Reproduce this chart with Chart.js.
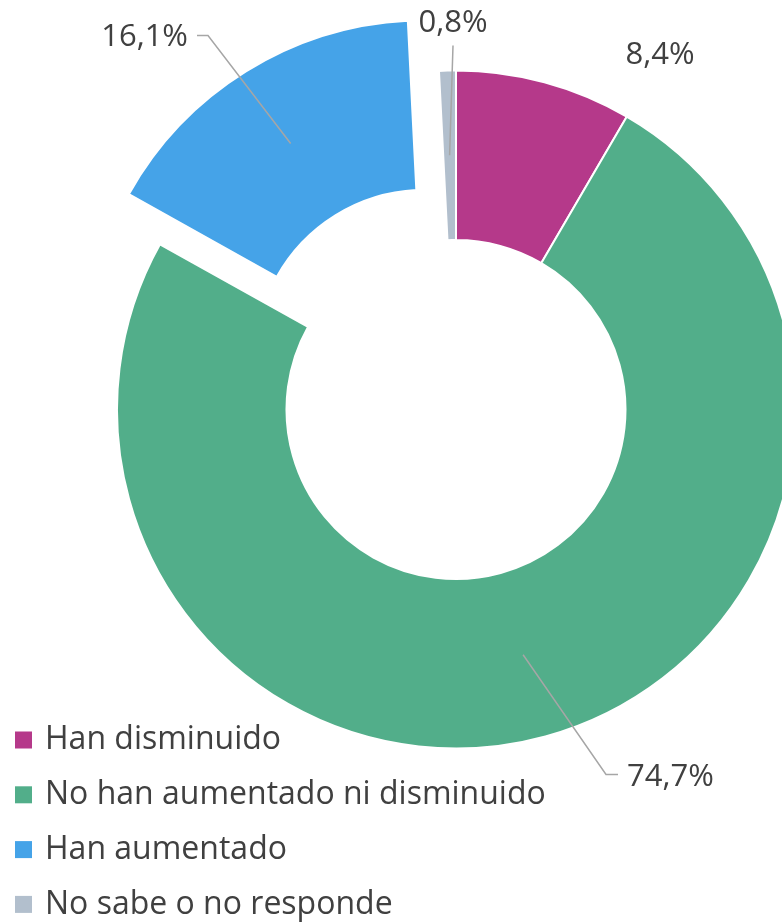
<!DOCTYPE html>
<html>
<head>
<meta charset="utf-8">
<script src="https://cdn.jsdelivr.net/npm/chart.js@4"></script>
<style>
  html, body { margin: 0; background: #fff; }
  canvas { display: block; }
</style>
</head>
<body>
<canvas id="chart" width="782" height="922"></canvas>
<script>
// Data
const categories = ['Han disminuido', 'No han aumentado ni disminuido', 'Han aumentado', 'No sabe o no responde'];
const values = [8.4, 74.7, 16.1, 0.8];
const valueLabels = ['8,4%', '74,7%', '16,1%', '0,8%'];
const colors = ['#B5398A', '#52AE8A', '#45A3E8', '#B2BFCD'];
const explode = [0, 0, 59, 0];

const FONT = '"Open Sans", "Noto Sans", sans-serif';
const TEXT_COLOR = '#404040';
const LEADER_COLOR = '#A6A6A6';

// Label placement relative to the ring centre (text anchor + leader points)
const labelPlacement = [
    { x: 204, y: -354, align: 'center', leader: null },
    { x: 171, y: 368, align: 'left', leader: [[150, 365], [162, 365]] },
    { x: -268, y: -372, align: 'right', leader: [[-248, -374], [-259, -374]] },
    { x: -3, y: -386, align: 'center', leader: [[-3, -364]] }
];

// Legend block in the lower left corner
const legendBox = { x: 15, y: 740, rowGap: 54.8, size: 17, textX: 45 };

// Pull exploded slices straight out without resizing them (Chart's own offset also grows the radii)
const explodePlugin = {
    id: 'explode',
    afterDatasetsUpdate(chart) {
        chart.getDatasetMeta(0).data.forEach((arc, i) => {
            const shift = explode[i];
            if (!shift) return;
            const baseDraw = Object.getPrototypeOf(arc).draw;
            arc.draw = function(ctx) {
                const mid = (this.startAngle + this.endAngle) / 2;
                ctx.save();
                ctx.translate(Math.cos(mid) * shift, Math.sin(mid) * shift);
                baseDraw.call(this, ctx);
                ctx.restore();
            };
        });
    }
};

// Draw value labels, leader lines and legend
const overlayPlugin = {
    id: 'overlay',
    afterDraw(chart) {
        const ctx = chart.ctx;
        const meta = chart.getDatasetMeta(0);
        ctx.save();

        meta.data.forEach((arc, i) => {
            const p = arc.getProps(['x', 'y', 'startAngle', 'endAngle', 'innerRadius', 'outerRadius']);
            const place = labelPlacement[i];
            const mid = (p.startAngle + p.endAngle) / 2;
            const midR = (p.innerRadius + p.outerRadius) / 2 + explode[i];

            if (place.leader) {
                ctx.strokeStyle = LEADER_COLOR;
                ctx.lineWidth = 1.5;
                ctx.beginPath();
                ctx.moveTo(p.x + Math.cos(mid) * midR, p.y + Math.sin(mid) * midR);
                place.leader.forEach(pt => ctx.lineTo(p.x + pt[0], p.y + pt[1]));
                ctx.stroke();
            }

            ctx.fillStyle = TEXT_COLOR;
            ctx.font = '31px ' + FONT;
            ctx.textAlign = place.align;
            ctx.textBaseline = 'middle';
            ctx.fillText(valueLabels[i], p.x + place.x, p.y + place.y);
        });

        // legend
        ctx.font = '32px ' + FONT;
        ctx.textAlign = 'left';
        ctx.textBaseline = 'middle';
        categories.forEach((name, i) => {
            const cy = legendBox.y + i * legendBox.rowGap;
            ctx.fillStyle = colors[i];
            ctx.fillRect(legendBox.x, cy - legendBox.size / 2, legendBox.size, legendBox.size);
            ctx.fillStyle = TEXT_COLOR;
            ctx.fillText(name, legendBox.textX, cy);
        });

        ctx.restore();
    }
};

new Chart(document.getElementById('chart').getContext('2d'), {
    type: 'doughnut',
    data: {
        labels: categories,
        datasets: [{
            data: values,
            backgroundColor: colors,
            borderColor: '#ffffff',
            borderWidth: 2,
            hoverOffset: 0
        }]
    },
    options: {
        responsive: false,
        animation: false,
        devicePixelRatio: 1,
        events: [],
        radius: 339,
        cutout: '50%',
        layout: { padding: { left: 130, right: 0, top: 0, bottom: 103 } },
        plugins: {
            legend: { display: false },
            tooltip: { enabled: false }
        }
    },
    plugins: [explodePlugin, overlayPlugin]
});
</script>
</body>
</html>
